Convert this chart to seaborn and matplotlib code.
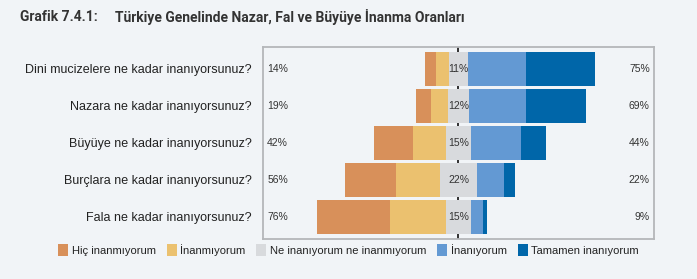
import matplotlib
matplotlib.use("Agg")
import matplotlib.pyplot as plt
import seaborn as sns
import numpy as np
from matplotlib.patches import Patch

questions = [
    "Dini mucizelere ne kadar inanıyorsunuz?",
    "Nazara ne kadar inanıyorsunuz?",
    "Büyüye ne kadar inanıyorsunuz?",
    "Burçlara ne kadar inanıyorsunuz?",
    "Fala ne kadar inanıyorsunuz?",
]
series_names = ["Hiç inanmıyorum", "İnanmıyorum", "Ne inanıyorum ne inanmıyorum",
                "İnanıyorum", "Tamamen inanıyorum"]
hic = [6, 9, 23, 30, 43]
inanmiyorum = [8, 10, 19, 26, 33]
kararsiz = [11, 12, 15, 22, 15]
inaniyorum = [34, 34, 29, 16, 7]
tamamen = [41, 35, 15, 6, 2]
neg_labels = [14, 19, 42, 56, 76]
pos_labels = [75, 69, 44, 22, 9]

colors = ["#d8905a", "#ebc16f", "#d8dadd", "#6399d3", "#0066a9"]
bg = "#f1f4f7"

sns.set_theme(style="white")
plt.rcParams["font.family"] = ["Liberation Sans", "DejaVu Sans"]

fig = plt.figure(figsize=(6.97, 2.79), dpi=100, facecolor=bg)
ax = fig.add_axes([0.3773, 0.1434, 0.561, 0.6892])
ax.set_facecolor(bg)

h = np.array(hic, float)
i1 = np.array(inanmiyorum, float)
k = np.array(kararsiz, float)
i2 = np.array(inaniyorum, float)
t = np.array(tamamen, float)

lefts = [-(k / 2) - i1 - h, -(k / 2) - i1, -(k / 2), k / 2, k / 2 + i2]
widths = [h, i1, k, i2, t]

for w, l, c in zip(widths, lefts, colors):
    sns.barplot(x=w, y=questions, left=l, color=c, width=0.92, orient="h",
                ax=ax, zorder=2, linewidth=0, saturation=1)

ax.axvline(0, color="#222222", lw=1.3, zorder=0)

ax.set_xlim(-115, 115)
ax.set_ylim(4.6, -0.6)
ax.set_xticks([])
ax.set_xlabel("")
ax.set_ylabel("")
ax.tick_params(axis="y", length=0, pad=8, labelsize=9, labelcolor="#222222")

for yi in range(len(questions)):
    ax.text(-112.5, yi, f"{neg_labels[yi]}%", ha="left", va="center",
            fontsize=7.5, color="#333333", zorder=3)
    ax.text(112.5, yi, f"{pos_labels[yi]}%", ha="right", va="center",
            fontsize=7.5, color="#333333", zorder=3)
    ax.text(0, yi, f"{kararsiz[yi]}%", ha="center", va="center",
            fontsize=7.5, color="#333333", zorder=3)

for sp in ax.spines.values():
    sp.set_visible(True)
    sp.set_color("#b5b7ba")
    sp.set_linewidth(1.3)

handles = [Patch(facecolor=c, edgecolor="none") for c in colors]
fig.legend(handles, series_names, loc="center", bbox_to_anchor=(0.5, 0.105),
           ncol=5, frameon=False, fontsize=8, handlelength=0.9, handleheight=1.25,
           handletextpad=0.3, columnspacing=1.0, labelcolor="#222222")

fig.text(0.029, 0.939, "Grafik 7.4.1:", fontsize=10, fontweight="bold",
         color="#333333", ha="left", va="center", family=["Roboto", "DejaVu Sans"])
fig.text(0.165, 0.939, "Türkiye Genelinde Nazar, Fal ve Büyüye İnanma Oranları",
         fontsize=10, fontweight="bold", color="#333333", ha="left", va="center",
         family=["Roboto", "DejaVu Sans"])

fig.savefig("out.png", dpi=100, facecolor=bg)
